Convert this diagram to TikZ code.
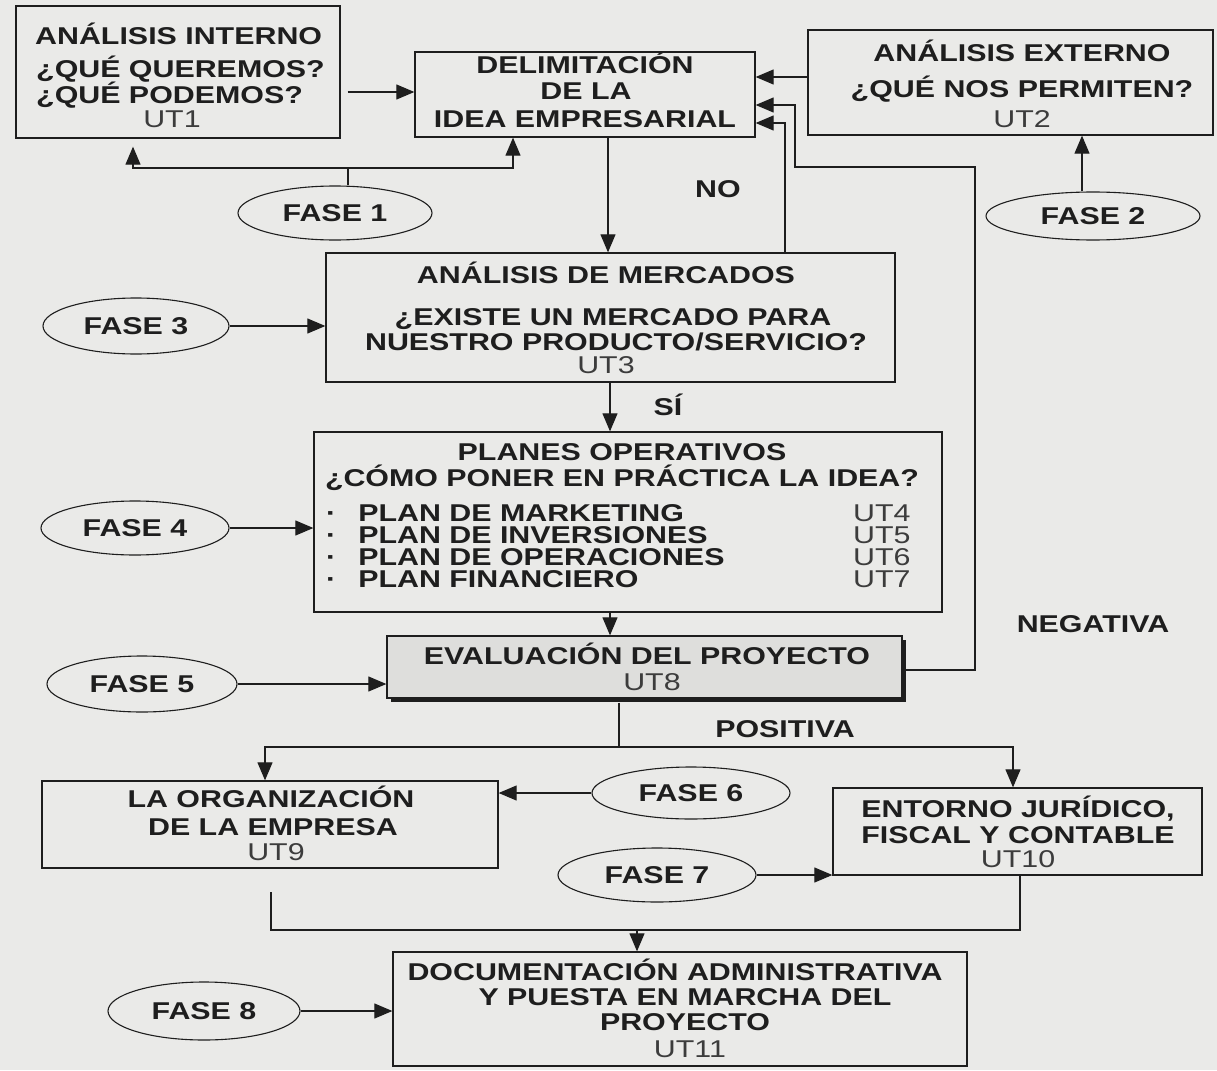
\documentclass[tikz,border=0pt]{standalone}
\usepackage{fontspec}
\setmainfont{Liberation Sans}[FakeStretch=1.25]
\usetikzlibrary{arrows.meta,shapes.geometric}
\definecolor{bg}{RGB}{234,234,232}
\definecolor{evalbg}{RGB}{222,222,220}
\definecolor{ink}{RGB}{30,30,30}
\definecolor{inkl}{RGB}{60,60,60}
\begin{document}
\begin{tikzpicture}[x=1pt,y=-1pt,
  ln/.style={draw=ink,line width=1.1pt},
  arr/.style={ln,-{Triangle[length=18pt,width=15pt]}},
  box/.style={draw=ink,line width=1.3pt,rectangle,inner sep=0pt},
  fase/.style={draw=ink,line width=1.1pt,ellipse,inner sep=0pt,text=ink,font=\fontsize{24.3}{26}\selectfont\bfseries},
  tx/.style={anchor=base,inner sep=0pt,text=ink,font=\fontsize{24.3}{26}\selectfont\bfseries},
  txl/.style={tx,anchor=base west},
  ut/.style={tx,text=inkl,font=\fontsize{24.3}{26}\selectfont\mdseries},
  utl/.style={ut,anchor=base west}]
\useasboundingbox (0,0) rectangle (1217,1070);
\fill[bg] (0,0) rectangle (1217,1070);

% boxes
\node[box,minimum width=324pt,minimum height=132pt] (b1) at (178,72) {};
\node[box,minimum width=340pt,minimum height=85pt] (b2) at (585,94.5) {};
\node[box,minimum width=405pt,minimum height=105pt] (b3) at (1010.5,82.5) {};
\node[box,minimum width=569pt,minimum height=129pt] (b4) at (610.5,317.5) {};
\node[box,minimum width=628pt,minimum height=180pt] (b5) at (628,522) {};
\fill[ink] (391,640) rectangle (906,702);
\node[box,fill=evalbg,minimum width=515pt,minimum height=62pt] (b6) at (644.5,667) {};
\node[box,minimum width=456pt,minimum height=87pt] (b7) at (270,824.5) {};
\node[box,minimum width=369pt,minimum height=87pt] (b8) at (1017.5,831.5) {};
\node[box,minimum width=574pt,minimum height=114pt] (b9) at (680,1009) {};

% phases
\node[fase,minimum width=194pt,minimum height=54pt] (f1) at (335,213) {FASE 1};
\node[fase,minimum width=214pt,minimum height=48pt] (f2) at (1093,216) {FASE 2};
\node[fase,minimum width=186pt,minimum height=56pt] (f3) at (136,326) {FASE 3};
\node[fase,minimum width=188pt,minimum height=54pt] (f4) at (135,528) {FASE 4};
\node[fase,minimum width=190pt,minimum height=56pt] (f5) at (142,684) {FASE 5};
\node[fase,minimum width=198pt,minimum height=52pt] (f6) at (691,793) {FASE 6};
\node[fase,minimum width=198pt,minimum height=54pt] (f7) at (657,875) {FASE 7};
\node[fase,minimum width=192pt,minimum height=58pt] (f8) at (204,1011) {FASE 8};

% texts
\node[txl] (b1a) at (35,45) {ANÁLISIS INTERNO};
\node[txl] (b1b) at (36,78) {¿QUÉ QUEREMOS?};
\node[txl] (b1c) at (36,103) {¿QUÉ PODEMOS?};
\node[ut] (b1d) at (172,128) {UT1};

\node[tx] (b2a) at (585,74) {DELIMITACIÓN};
\node[tx] (b2b) at (586,100) {DE LA};
\node[tx] (b2c) at (585,128) {IDEA EMPRESARIAL};

\node[tx] (b3a) at (1022,62) {ANÁLISIS EXTERNO};
\node[tx] (b3b) at (1022,98) {¿QUÉ NOS PERMITEN?};
\node[ut] (b3c) at (1022,128) {UT2};

\node[tx] (b4a) at (606,283) {ANÁLISIS DE MERCADOS};
\node[tx] (b4b) at (613,325) {¿EXISTE UN MERCADO PARA};
\node[tx] (b4c) at (616,350) {NUESTRO PRODUCTO/SERVICIO?};
\node[ut] (b4d) at (606,373) {UT3};

\node[tx] (b5a) at (622,460) {PLANES OPERATIVOS};
\node[tx] (b5b) at (622,486) {¿CÓMO PONER EN PRÁCTICA LA IDEA?};
\node[txl] (p1) at (326,521) {·\hspace{22pt}PLAN DE MARKETING};
\node[utl] (p1u) at (853,521) {UT4};
\node[txl] (p2) at (326,543) {·\hspace{22pt}PLAN DE INVERSIONES};
\node[utl] (p2u) at (853,543) {UT5};
\node[txl] (p3) at (326,565) {·\hspace{22pt}PLAN DE OPERACIONES};
\node[utl] (p3u) at (853,565) {UT6};
\node[txl] (p4) at (326,587) {·\hspace{22pt}PLAN FINANCIERO};
\node[utl] (p4u) at (853,587) {UT7};

\node[tx] (b6a) at (647,664) {EVALUACIÓN DEL PROYECTO};
\node[ut] (b6b) at (652,690) {UT8};

\node[tx] (b7a) at (271,807) {LA ORGANIZACIÓN};
\node[tx] (b7b) at (273,835) {DE LA EMPRESA};
\node[ut] (b7c) at (276,860) {UT9};

\node[tx] (b8a) at (1018,817) {ENTORNO JURÍDICO,};
\node[tx] (b8b) at (1018,843) {FISCAL Y CONTABLE};
\node[ut] (b8c) at (1018,867) {UT10};

\node[tx] (b9a) at (675,980) {DOCUMENTACIÓN ADMINISTRATIVA};
\node[tx] (b9b) at (685,1005) {Y PUESTA EN MARCHA DEL};
\node[tx] (b9c) at (685,1030) {PROYECTO};
\node[ut] (b9d) at (690,1057) {UT11};

\node[tx] (lno) at (718,197) {NO};
\node[tx] (lsi) at (668,415) {SÍ};
\node[tx] (lneg) at (1093,632) {NEGATIVA};
\node[tx] (lpos) at (785,737) {POSITIVA};

% connectors
\coordinate (j1) at (348,168);
\coordinate (n1) at (975,167);
\coordinate (n2) at (795,105);
\coordinate (j2) at (619,747);
\coordinate (j3) at (637,930);
\coordinate (c7) at (271,892);

\draw[arr,shorten <=7pt] (b1.east |- 0,92) -- (b2.west |- 0,92);
\draw[ln] (f1.north -| j1) -- (j1);
\draw[arr,shorten >=8pt] (j1) -| (b1.south -| 133,0);
\draw[arr] (j1) -| (b2.south -| 513,0);
\draw[arr] (f2.north -| 1082,0) -- (b3.south -| 1082,0);
\draw[arr] (b3.west |- 0,77) -- (b2.east |- 0,77);
\draw[arr] (b2.south -| 608,0) -- (b4.north -| 608,0);
\draw[arr] (b4.north -| 785,0) |- (b2.east |- 0,123);
\draw[arr] (b6.east |- 0,670) -| (n1) -| (n2) -- (b2.east |- n2);
\draw[arr] (f3.east) -- (b4.west |- f3.east);
\draw[arr] (b4.south -| 610,0) -- (b5.north -| 610,0);
\draw[arr] (f4.east) -- (b5.west |- f4.east);
\draw[arr] (b5.south -| 610,0) -- (b6.north -| 610,0);
\draw[arr] (f5.east) -- (b6.west |- f5.east);
\draw[ln] ([yshift=-4pt]b6.south -| j2) -- (j2);
\draw[arr] (j2) -| (b7.north -| 265,0);
\draw[arr] (j2) -| (b8.north -| 1013,0);
\draw[arr] (f6.west) -- (b7.east |- f6.west);
\draw[arr] (f7.east) -- (b8.west |- f7.east);
\draw[ln] (b8.south -| 1020,0) |- (j3);
\draw[ln] (c7) |- (j3);
\draw[arr] (j3) -- (b9.north -| j3);
\draw[arr] (f8.east) -- (b9.west |- f8.east);
\end{tikzpicture}
\end{document}
